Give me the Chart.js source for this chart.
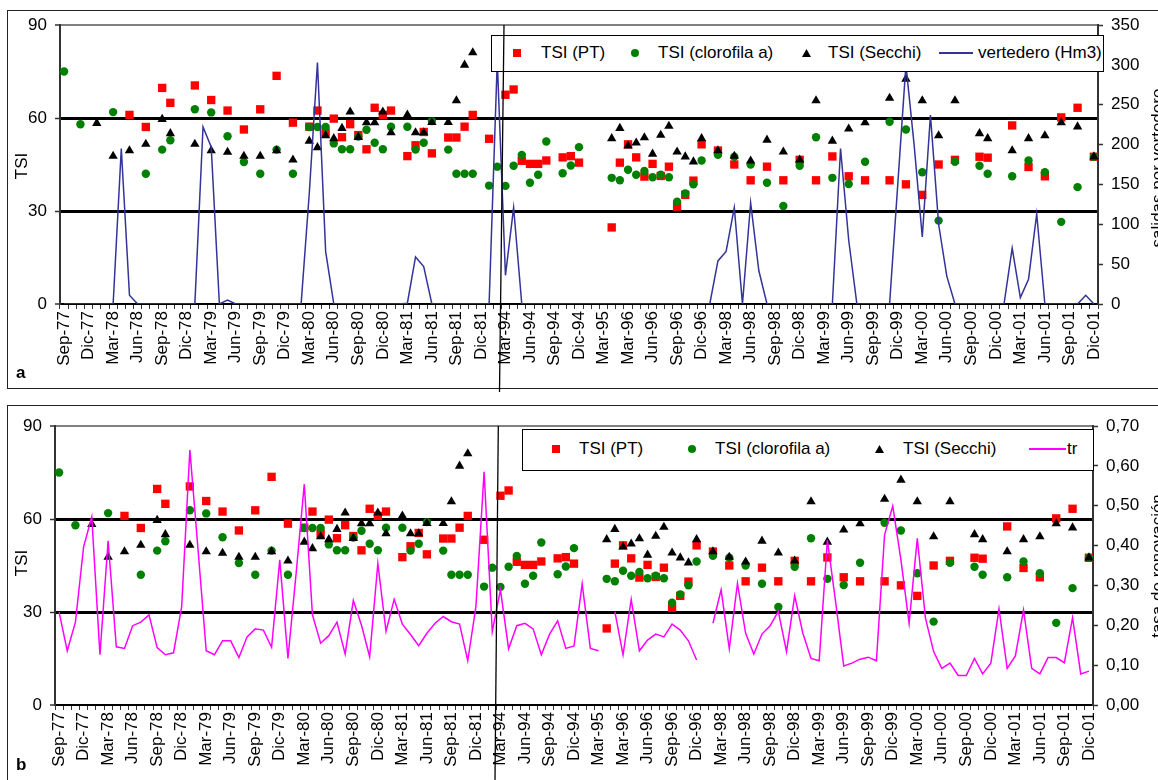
<!DOCTYPE html>
<html><head><meta charset="utf-8">
<script src="https://cdn.jsdelivr.net/npm/chart.js@4.4.1/dist/chart.umd.min.js"></script>
<style>
html,body{margin:0;padding:0;width:1158px;height:780px;overflow:hidden;background:#fff;font-family:'Liberation Sans',Arial,sans-serif;}
.panel{position:absolute;border:1.5px solid #222;box-sizing:border-box;}
.cv{position:absolute;left:0;}
.legend{position:absolute;background:#fff;border:1px solid #000;box-sizing:border-box;}
.lt{position:absolute;font-size:17px;line-height:20px;white-space:nowrap;transform:translateY(-50%);color:#000;}
.mk{position:absolute;}
.vt{position:absolute;font-size:17px;line-height:20px;white-space:nowrap;transform:translate(-50%,-50%) rotate(-90deg);color:#000;}
.pl{position:absolute;font-size:17px;font-weight:bold;line-height:20px;transform:translateY(-50%);}
</style></head>
<body>
<div class="panel" style="left:7px;top:10px;width:1160px;height:379px;"></div>
<div class="panel" style="left:7px;top:405px;width:1160px;height:400px;"></div>
<canvas id="c1" class="cv" style="top:0px" width="1158" height="392"></canvas>
<canvas id="c2" class="cv" style="top:392px" width="1158" height="388"></canvas>
<div id="overlay"></div>
<script>
// ---------- DATA ----------
const tickLabels = ["Sep-77","Dic-77","Mar-78","Jun-78","Sep-78","Dic-78","Mar-79","Jun-79","Sep-79","Dic-79",
  "Mar-80","Jun-80","Sep-80","Dic-80","Mar-81","Jun-81","Sep-81","Dic-81","Mar-94","Jun-94",
  "Sep-94","Dic-94","Mar-95","Mar-96","Jun-96","Sep-96","Dic-96","Mar-98","Jun-98","Sep-98",
  "Dic-98","Mar-99","Jun-99","Sep-99","Dic-99","Mar-00","Jun-00","Sep-00","Dic-00","Mar-01",
  "Jun-01","Sep-01","Dic-01"];
const labelEvery = 3;

const tsiPT = [
  null,null,null,null,null,null,null,null,61,null,
  57.1,null,69.7,64.9,null,null,70.5,null,65.8,null,
  62.4,null,56.3,null,62.8,null,73.6,null,58.5,null,
  57.2,62.4,55.3,59.8,53.8,58,54.5,49.9,63.3,61,
  62.4,null,47.7,51.2,55.5,48.6,null,53.7,53.7,57.2,
  61,null,53.3,null,67.5,69.2,46.2,45.2,45.2,46.3,
  null,47.3,47.7,45.6,null,null,null,24.7,45.6,51.5,
  47.3,41.1,45.2,41.3,44.3,31.4,35.2,39.8,51.5,null,
  49.5,null,45,null,39.9,null,44.3,null,39.9,null,
  46.5,null,39.9,null,47.6,null,41.2,null,39.9,null,
  null,39.9,null,38.6,null,35.2,null,45,null,46.5,
  null,null,47.5,47.2,null,null,57.6,null,44.2,null,
  41.2,null,60.2,null,63.3,null,47.5];

const tsiChl = [
  75,null,58,null,null,null,61.9,null,null,null,
  42,null,49.8,52.8,null,null,62.8,null,61.8,null,
  54.1,null,45.8,null,42,null,49.8,null,42,null,
  57.1,57.1,57.1,51.8,49.9,49.9,54,56.2,52,49.9,
  57.2,null,57.2,49.8,52,59,null,49.8,42,42,
  42,null,38.2,44.3,38.1,44.6,48.1,39.1,41.7,52.4,
  null,42.2,44.7,50.6,null,null,null,40.7,39.9,43.3,
  41.7,42.9,40.9,41.7,40.9,33,35.7,38.6,46.3,null,
  48.1,null,47.5,null,45,null,39.1,null,31.6,null,
  44.6,null,53.8,null,40.7,null,38.7,null,45.9,null,
  null,58.8,null,56.3,null,42.5,null,26.9,null,45.9,
  null,null,44.6,42,null,null,41.2,null,46.3,null,
  42.5,null,26.5,null,37.7,null,47.5];

const tsiSecchi = [
  null,null,null,null,58.3,null,47.7,null,49.5,null,
  51.6,null,59.6,55,null,null,51.6,null,49.5,null,
  49,null,47.7,null,47.7,null,49.5,null,46.5,null,
  52.6,50.5,54.3,53.4,56.7,62,53.8,58.5,58.5,62,
  55.3,null,61,55.3,55.3,58.6,null,58.6,65.6,77.1,
  81.1,null,null,null,null,null,null,null,null,null,
  null,null,null,null,null,null,null,53.4,56.7,51,
  52,53.7,48.4,54.5,57.4,49.1,47.5,45.9,53.4,null,
  49.5,null,47.7,null,46.2,null,52.9,null,49.1,null,
  46.5,null,65.6,null,52.6,null,56.5,null,58.5,null,
  null,66.4,null,72.6,null,65.6,null,54.3,null,65.6,
  null,null,55,53.4,null,null,49.5,null,53.4,null,
  54.3,null,58.5,null,57.2,null,47.5];

const vertedero = [
  0,0,0,0,0,0,0,195,11,0,
  0,0,0,0,0,0,0,222,197,0,
  5,0,0,0,0,0,0,0,0,0,
  139,303,66,0,0,0,0,0,0,0,
  0,0,1,59,47,0,0,0,0,0,
  0,0,0,305,36,121,0,0,0,0,
  0,0,0,0,0,0,0,0,0,0,
  0,0,0,0,0,0,0,0,0,0,
  54,66,121,0,127,42,0,0,0,0,
  0,0,0,0,0,195,80,0,0,0,
  0,0,150,300,200,84,237,100,35,0,
  0,0,0,0,0,0,70,8,31,113,
  0,0,0,0,0,11,0];

const tr = [
  0.233,0.136,0.208,0.397,0.472,0.126,0.412,0.146,0.142,0.199,
  0.208,0.226,0.144,0.126,0.131,0.247,0.640,0.390,0.136,0.126,
  0.161,0.161,0.119,0.171,0.191,0.188,0.145,0.364,0.117,0.330,
  0.554,0.226,0.155,0.174,0.208,0.128,0.262,0.200,0.121,0.355,
  0.185,0.265,0.203,0.177,0.149,0.180,0.205,0.222,0.209,0.203,
  0.111,0.247,0.585,0.184,0.289,0.141,0.199,0.205,0.191,0.126,
  0.177,0.211,0.142,0.148,0.304,0.142,0.136,null,0.234,0.126,
  0.265,0.136,0.163,0.178,0.171,0.203,0.188,0.161,0.113,null,
  0.205,0.289,0.141,0.305,0.180,0.128,0.178,0.199,0.235,0.134,
  0.274,0.180,0.117,0.111,0.414,0.260,0.098,0.105,0.115,0.120,
  0.111,0.427,0.499,0.364,0.205,0.418,0.218,0.134,0.092,0.105,
  0.074,0.074,0.117,0.078,0.105,0.241,0.092,0.123,0.238,0.092,
  0.078,0.119,0.119,0.106,0.219,0.078,0.085];

const categories = tsiPT.map((_, i) => i % labelEvery === 0 ? tickLabels[i / labelEvery] : '');

// ---------- CHARTS ----------
Chart.defaults.font.family = "'Liberation Sans', Arial, sans-serif";
Chart.defaults.font.size = 17;
Chart.defaults.color = '#000';

function tsiDatasets() {
  return [
    {label:'TSI (Secchi)', data:tsiSecchi, showLine:false, pointStyle:'triangle', pointRadius:5.4,
     pointBackgroundColor:'#000', pointBorderWidth:0, borderWidth:0, order:1, yAxisID:'y'},
    {label:'TSI (clorofila a)', data:tsiChl, showLine:false, pointStyle:'circle', pointRadius:4.2,
     pointBackgroundColor:'#008000', pointBorderWidth:0, borderWidth:0, order:2, yAxisID:'y'},
    {label:'TSI (PT)', data:tsiPT, showLine:false, pointStyle:'rect', pointRadius:5.9,
     pointBackgroundColor:'#ff0000', pointBorderWidth:0, borderWidth:0, order:3, yAxisID:'y'}
  ];
}

function makeOptions(cfg) {
  return {
    responsive:false, animation:false, events:[],
    layout:{padding:{top:cfg.padTop, left:0, right:0, bottom:0}},
    plugins:{legend:{display:false}, tooltip:{enabled:false}},
    scales:{
      x:{type:'category', offset:true,
        grid:{offset:true, drawOnChartArea:false, tickLength:5, tickColor:'#333', tickWidth:1},
        border:{color:'#000', width:2},
        ticks:{autoSkip:false, maxRotation:90, minRotation:90, padding:2, color:'#000', font:{size:17}},
        afterFit(s){ s.height = cfg.xH; }
      },
      y:{position:'left', min:0, max:90,
        ticks:{stepSize:30, padding:8, font:{size:17}},
        grid:{
          color:c => { const v=c.tick.value; return (v===30||v===60)?'#000':(v===90?'#808080':'rgba(0,0,0,0)'); },
          lineWidth:c => { const v=c.tick.value; return (v===30||v===60)?3:2; },
          tickLength:5, tickColor:'#333', tickWidth:1.5
        },
        border:{color:'#333', width:2},
        afterFit(s){ s.width = cfg.leftW; }
      },
      y1:{position:'right', min:0, max:cfg.y1max,
        ticks:{stepSize:cfg.y1step, padding:8, font:{size:17}, callback:cfg.y1fmt},
        grid:{drawOnChartArea:false, tickLength:5, tickColor:'#333', tickWidth:1.5},
        border:{color:'#333', width:2},
        afterFit(s){ s.width = cfg.rightW; }
      }
    }
  };
}

new Chart(document.getElementById('c1'), {
  type:'line',
  data:{labels:categories, datasets:[
    {label:'vertedero (Hm3)', data:vertedero, yAxisID:'y1', borderColor:'#333399', borderWidth:1.5,
     pointRadius:0, tension:0, order:0, fill:false},
    ...tsiDatasets()
  ]},
  options:makeOptions({padTop:25, leftW:60, rightW:60, xH:88, y1max:350, y1step:50,
    y1fmt:v => String(v)})
});

new Chart(document.getElementById('c2'), {
  type:'line',
  data:{labels:categories, datasets:[
    {label:'tr', data:tr, yAxisID:'y1', borderColor:'#ff00ff', borderWidth:1.5,
     pointRadius:0, tension:0, order:0, fill:false, spanGaps:false},
    ...tsiDatasets()
  ]},
  options:makeOptions({padTop:34, leftW:55, rightW:65, xH:75, y1max:0.7, y1step:0.1,
    y1fmt:v => v.toFixed(2).replace('.', ',')})
});

// ---------- HTML overlays (legends, titles) ----------
const ov = document.getElementById('overlay');
function el(html){ const d=document.createElement('div'); d.innerHTML=html; const n=d.firstChild; ov.appendChild(n); return n; }
function text(t, left, cy){ const n=el('<div class="lt"></div>'); n.textContent=t; n.style.left=left+'px'; n.style.top=cy+'px'; }
function vtext(t, cx, cy){ const n=el('<div class="vt"></div>'); n.textContent=t; n.style.left=cx+'px'; n.style.top=cy+'px'; }
function mk(type, cx, cy, color){
  let svg;
  if(type==='rect') svg=`<svg class="mk" width="8" height="8" style="left:${cx-4}px;top:${cy-4}px"><rect width="8" height="8" fill="${color}"/></svg>`;
  else if(type==='circle') svg=`<svg class="mk" width="8" height="8" style="left:${cx-4}px;top:${cy-4}px"><circle cx="4" cy="4" r="4" fill="${color}"/></svg>`;
  else svg=`<svg class="mk" width="9" height="8" style="left:${cx-4.5}px;top:${cy-4}px"><polygon points="4.5,0 9,8 0,8" fill="${color}"/></svg>`;
  el(svg);
}
function lineMk(x1, x2, cy, color){ el(`<div class="mk" style="left:${x1}px;top:${cy-1}px;width:${x2-x1}px;height:2px;background:${color}"></div>`); }

// legend a
el('<div class="legend" style="left:491px;top:35px;width:613px;height:37px;"></div>');
mk('rect', 517, 53, '#ff0000'); text('TSI (PT)', 541, 53);
mk('circle', 635, 53, '#008000'); text('TSI (clorofila a)', 658, 53);
mk('tri', 806, 53, '#000'); text('TSI (Secchi)', 828, 53);
lineMk(939, 973, 53, '#333399'); text('vertedero (Hm3)', 978, 53);

// legend b
el('<div class="legend" style="left:522px;top:429px;width:572px;height:42px;"></div>');
mk('rect', 556, 449, '#ff0000'); text('TSI (PT)', 579, 449);
mk('circle', 692, 449, '#008000'); text('TSI (clorofila a)', 715, 449);
mk('tri', 879, 449, '#000'); text('TSI (Secchi)', 903, 449);
lineMk(1029, 1066, 449, '#ff00ff'); text('tr', 1067, 449);

// axis titles
vtext('TSI', 22, 166);
vtext('TSI', 22, 563);
vtext('salidas por vertedero', 1158, 168);
vtext('tasa de renovación', 1158, 566);

// panel letters
el('<div class="pl" style="left:16px;top:373px;">a</div>');
el('<div class="pl" style="left:16px;top:765px;">b</div>');

// separator between periods
el('<svg class="mk" style="left:0;top:0" width="1158" height="780"><line x1="504" y1="25" x2="499.5" y2="392" stroke="#000" stroke-width="1.3"/><line x1="498.3" y1="426" x2="495" y2="780" stroke="#000" stroke-width="1.3"/></svg>');
</script>
</body></html>
